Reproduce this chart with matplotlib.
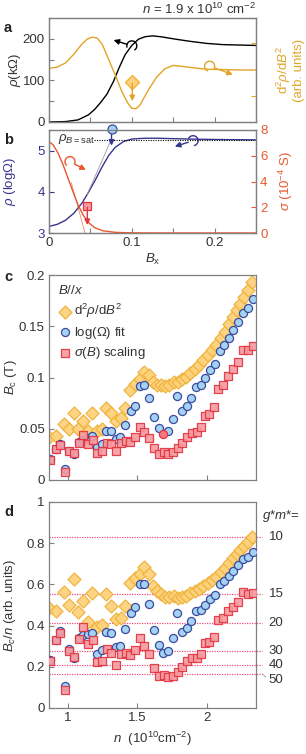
import numpy as np
import matplotlib
matplotlib.use("Agg")
import matplotlib.pyplot as plt
import matplotlib.patches as mpatches
import matplotlib.transforms as mtransforms

plt.rcParams['font.family'] = ['Liberation Sans', 'DejaVu Sans']
plt.rcParams['mathtext.fontset'] = 'custom'
plt.rcParams['mathtext.rm'] = 'Liberation Sans'
plt.rcParams['mathtext.it'] = 'Liberation Sans:italic'
plt.rcParams['mathtext.bf'] = 'Liberation Sans:bold'
plt.rcParams['font.size'] = 9.5

# ---- panel a: rho (kOhm) and d2rho/dB2 vs B ----
a_B = [0, 0.02, 0.035, 0.0475, 0.055, 0.062, 0.07, 0.078, 0.085, 0.092, 0.1, 0.108,
       0.116, 0.125, 0.135, 0.15, 0.17, 0.19, 0.21, 0.23, 0.25]
a_rho = [0, 1, 5, 17, 30, 46, 67, 98, 132, 162, 184, 199, 205, 207, 205, 200, 194, 189,
         186, 185, 184]
a2_B = [0, 0.01, 0.02, 0.03, 0.04, 0.046, 0.052, 0.058, 0.064, 0.07, 0.08, 0.088, 0.095,
        0.1, 0.105, 0.11, 0.12, 0.13, 0.14, 0.15, 0.16, 0.175, 0.19, 0.21, 0.23, 0.25]
a2_d2 = [129, 132, 142, 163, 188, 199, 204, 202, 188, 160, 113, 73, 46, 33, 32, 41, 77,
         108, 128, 136, 134, 130, 127, 126, 125, 125]

# ---- panel b: log rho and sigma vs B ----
b_B = [0, 0.01, 0.02, 0.03, 0.04, 0.048, 0.056, 0.064, 0.072, 0.08, 0.09, 0.1, 0.115,
       0.13, 0.15, 0.17, 0.2, 0.25]
b_logrho = [3.16, 3.21, 3.31, 3.48, 3.73, 4.0, 4.29, 4.6, 4.88, 5.08, 5.22, 5.28, 5.30,
            5.30, 5.29, 5.28, 5.27, 5.26]
b2_B = [0, 0.005, 0.011, 0.017, 0.023, 0.029, 0.035, 0.041, 0.047, 0.055, 0.065, 0.08,
        0.1, 0.15, 0.2, 0.25]
b2_sigma = [7.09, 6.85, 6.2, 5.3, 4.25, 3.2, 2.2, 1.42, 0.85, 0.42, 0.17, 0.05, 0.01, 0,
            0, 0]
rho_sat = 5.26
tan_rho_B = [0.046, 0.075]
tan_rho_y = [3.93, 5.26]
tan_sig_B = [0.027, 0.0435]
tan_sig_y = [3.9, 0.0]

# ---- panels c/d: critical field (stored as Bc/n, arb. units) vs n ----
dia_n = [0.865, 0.909, 0.973, 1.004, 1.040, 1.072, 1.108, 1.141, 1.175, 1.209, 1.245,
         1.276, 1.312, 1.345, 1.381, 1.412, 1.448, 1.484, 1.515, 1.549, 1.580, 1.612,
         1.640, 1.672, 1.700, 1.730, 1.760, 1.790, 1.820, 1.850, 1.880, 1.912, 1.945,
         1.975, 2.008, 2.040, 2.070, 2.100, 2.130, 2.160, 2.190, 2.215, 2.240, 2.268,
         2.295, 2.324]
dia_bcn = [0.487, 0.471, 0.565, 0.499, 0.626, 0.468, 0.521, 0.419, 0.557, 0.395, 0.403,
           0.552, 0.497, 0.431, 0.435, 0.497, 0.605, 0.630, 0.650, 0.683, 0.650, 0.594,
           0.568, 0.552, 0.540, 0.537, 0.545, 0.532, 0.540, 0.545, 0.557, 0.567, 0.578,
           0.592, 0.606, 0.622, 0.636, 0.660, 0.680, 0.706, 0.728, 0.750, 0.768, 0.788,
           0.808, 0.830]
circ_n = [0.868, 0.909, 0.940, 0.974, 1.005, 1.041, 1.077, 1.108, 1.141, 1.173, 1.209,
          1.245, 1.276, 1.312, 1.343, 1.376, 1.412, 1.452, 1.484, 1.520, 1.550, 1.586,
          1.618, 1.652, 1.686, 1.719, 1.755, 1.784, 1.820, 1.856, 1.885, 1.923, 1.957,
          1.988, 2.024, 2.060, 2.096, 2.124, 2.160, 2.191, 2.227, 2.263, 2.295, 2.331]
circ_bcn = [0.234, 0.330, 0.375, 0.108, 0.285, 0.242, 0.340, 0.355, 0.361, 0.363, 0.264,
            0.280, 0.371, 0.366, 0.298, 0.303, 0.382, 0.462, 0.488, 0.604, 0.600, 0.506,
            0.379, 0.306, 0.266, 0.278, 0.340, 0.462, 0.368, 0.387, 0.424, 0.471, 0.476,
            0.500, 0.529, 0.549, 0.602, 0.618, 0.642, 0.667, 0.694, 0.722, 0.731, 0.759]
sq_n = [0.868, 0.909, 0.940, 0.974, 1.005, 1.041, 1.077, 1.108, 1.141, 1.177, 1.209,
        1.245, 1.281, 1.312, 1.345, 1.381, 1.420, 1.448, 1.484, 1.516, 1.549, 1.583,
        1.616, 1.652, 1.688, 1.719, 1.755, 1.789, 1.820, 1.856, 1.892, 1.928, 1.959,
        1.988, 2.019, 2.055, 2.084, 2.120, 2.156, 2.192, 2.223, 2.264, 2.300, 2.336]
sq_bcn = [0.226, 0.331, 0.366, 0.085, 0.279, 0.250, 0.335, 0.393, 0.311, 0.331, 0.221,
          0.229, 0.285, 0.269, 0.210, 0.260, 0.266, 0.258, 0.282, 0.339, 0.302, 0.261,
          0.194, 0.153, 0.161, 0.150, 0.153, 0.177, 0.198, 0.226, 0.242, 0.242, 0.263,
          0.315, 0.319, 0.347, 0.427, 0.435, 0.471, 0.492, 0.516, 0.561, 0.553, 0.560]
highlight_n = 1.686          # circle drawn red in panel c
gm_values = [10, 15, 20, 30, 40, 50]
gm_levels = [0.83, 0.555, 0.415, 0.277, 0.208, 0.166]
gm_text_y = [0.83, 0.555, 0.415, 0.277, 0.21, 0.135]
bcn_scale = 10.0             # Bc/n in units of 0.1 T per 1e10 cm^-2

# colours
GRAY = '#808080'
TXT = '#333333'
GOLD = '#e0a526'
DIA_FC, DIA_EC = '#fdd27c', '#f0b23a'
NAVY = '#35358f'
CIR_FC, CIR_EC = '#a3d2f3', '#3b4b9e'
ORED = '#e8582c'
SQ_FC, SQ_EC = '#f59aa0', '#e2333e'
PINK = '#ef4f7a'

W, H = 306, 754
fig = plt.figure(figsize=(W / 100, H / 100), dpi=100)


def box(l, t, r, b):
    return [l / W, 1 - b / H, (r - l) / W, (b - t) / H]


def style(ax, lcol=TXT):
    for s in ax.spines.values():
        s.set_color(GRAY)
        s.set_linewidth(0.9)
    ax.tick_params(which='both', direction='in', length=3.5, width=0.8, color=GRAY,
                   labelcolor=lcol, labelsize=9.5, pad=3)


def curl(ax, center, tip, color, r=5, t1=40, t2=330):
    trans = mtransforms.Affine2D() + mtransforms.ScaledTranslation(center[0], center[1],
                                                                  ax.transData)
    arc = mpatches.Arc((0, 0), 2 * r, 2 * r, theta1=t1, theta2=t2, transform=trans,
                       color=color, lw=1.0, clip_on=False)
    ax.add_patch(arc)
    ax.annotate('', xy=tip, xytext=center,
                arrowprops=dict(arrowstyle='-|>', color=color, lw=1.0, mutation_scale=8,
                                shrinkA=r * 0.72, shrinkB=0), annotation_clip=False)


# ================= panel a =================
axa = fig.add_axes(box(49, 18, 256, 122))
style(axa)
axa.plot(a_B, a_rho, color='black', lw=1.0)
axa.set_xlim(0, 0.25)
axa.set_ylim(0, 250)
axa.set_yticks([0, 100, 200])
axa.set_yticks([50, 150], minor=True)
axa.set_xticks([0, 0.1, 0.2])
axa.set_xticks([0.05, 0.15], minor=True)
axa.tick_params(labelbottom=False)
axa.set_ylabel(r'$\rho$(k$\Omega$)', color=TXT, fontsize=9.5)
axa.yaxis.set_label_coords(-0.125, 0.5)

axa2 = axa.twinx()
style(axa2)
axa2.plot(a2_B, a2_d2, color=GOLD, lw=1.0)
axa2.set_ylim(0, 250)
axa2.set_yticks([62, 189])
axa2.tick_params(axis='y', colors=GOLD, labelright=False)
axa2.set_ylabel('d$^2\\rho$/d$B^2$\n(arb. units)', color=GOLD, fontsize=9.5,
                rotation=90, linespacing=1.0)
axa2.yaxis.set_label_coords(1.09, 0.5)
axa2.yaxis.label.set_va('top')

# diamond marker with arrow
axa2.annotate('', xy=(0.1006, 50), xytext=(0.1006, 93),
              arrowprops=dict(arrowstyle='-|>', color=GOLD, lw=1.0, mutation_scale=8,
                              shrinkA=0, shrinkB=0))
axa2.plot([0.1006], [96], marker='D', ms=7, mfc=DIA_FC, mec=DIA_EC, mew=1.0)
curl(axa, (0.100, 183), (0.078, 197), 'black', t1=-60, t2=200)
curl(axa2, (0.194, 134), (0.222, 114), GOLD, t1=-20, t2=250)

fig.text(256 / W, 1 - 9 / H, r'$n$ = 1.9 x 10$^{10}$ cm$^{-2}$', ha='right',
         va='center', color=TXT, fontsize=9.5)

# ================= panel b =================
axb = fig.add_axes(box(49, 130, 256, 233))
style(axb, NAVY)
axb.plot(b_B, b_logrho, color=NAVY, lw=1.0)
axb.plot([0.054, 0.25], [rho_sat, rho_sat], color='black', lw=0.8, ls=(0, (1, 1.2)))
axb.plot(tan_rho_B, tan_rho_y, color='#999999', lw=0.6)
axb.set_xlim(0, 0.25)
axb.set_ylim(3, 5.5)
axb.set_yticks([3, 4, 5])
axb.set_xticks([0, 0.1, 0.2])
axb.set_xticks([0.05, 0.15], minor=True)
axb.set_xticklabels(['0', '0.1', '0.2'])
axb.tick_params(axis='x', labelcolor=TXT)
axb.tick_params(axis='y', colors=NAVY)
axb.set_ylabel(r'$\rho$ (log$\Omega$)', color=NAVY, fontsize=9.5)
axb.yaxis.set_label_coords(-0.15, 0.5)
axb.set_xlabel(r'$B_{\mathrm{x}}$', color=TXT, fontsize=9.5, labelpad=2)
axb.text(0.011, 5.27, r'$\rho_{B\mathrm{=sat}}$', ha='left', va='center', color=TXT,
         fontsize=9.5)
axb.annotate('', xy=(0.0755, 5.12), xytext=(0.0755, 5.5),
             arrowprops=dict(arrowstyle='-|>', color=NAVY, lw=1.0, mutation_scale=8,
                             shrinkA=0, shrinkB=0), annotation_clip=False)
axb.plot([0.0755], [5.53], marker='o', ms=6.5, mfc=CIR_FC, mec=CIR_EC, mew=0.9,
         clip_on=False, zorder=5)
curl(axb, (0.174, 5.24), (0.152, 5.10), NAVY, t1=-80, t2=160)

axb2 = axb.twinx()
style(axb2, ORED)
axb2.plot(b2_B, b2_sigma, color=ORED, lw=1.0)
axb2.plot(tan_sig_B, tan_sig_y, color=ORED, lw=0.5, alpha=0.8)
axb2.set_ylim(0, 8)
axb2.set_yticks([0, 2, 4, 6, 8])
axb2.tick_params(axis='y', colors=ORED)
axb2.set_ylabel(r'$\sigma$ (10$^{-4}$ S)', color=ORED, fontsize=9.5)
axb2.yaxis.set_label_coords(1.10, 0.5)
axb2.yaxis.label.set_va('top')
axb2.annotate('', xy=(0.0463, 0.62), xytext=(0.0463, 2.0),
              arrowprops=dict(arrowstyle='-|>', color=SQ_EC, lw=1.0, mutation_scale=8,
                              shrinkA=0, shrinkB=0))
axb2.plot([0.0463], [2.1], marker='s', ms=5.5, mfc=SQ_FC, mec=SQ_EC, mew=0.9)
curl(axb2, (0.0254, 5.54), (0.0445, 4.9), ORED, t1=-30, t2=230)

# ================= panels c and d =================
dia_n_a, circ_n_a, sq_n_a = np.array(dia_n), np.array(circ_n), np.array(sq_n)
dia_bc = np.array(dia_bcn) * dia_n_a / bcn_scale
circ_bc = np.array(circ_bcn) * circ_n_a / bcn_scale
sq_bc = np.array(sq_bcn) * sq_n_a / bcn_scale
hl = np.argmin(np.abs(circ_n_a - highlight_n))

dia_kw = dict(marker='D', s=44, facecolor=DIA_FC, edgecolor=DIA_EC, linewidths=0.9,
              alpha=0.95)
cir_kw = dict(marker='o', s=34, facecolor=CIR_FC, edgecolor=CIR_EC, linewidths=0.9)
sq_kw = dict(marker='s', s=27, facecolor=SQ_FC, edgecolor=SQ_EC, linewidths=0.9,
             alpha=0.9)

axc = fig.add_axes(box(49, 275, 256, 480))
style(axc)
axc.scatter(dia_n_a, dia_bc, **dia_kw, label=r'd$^2\rho$/d$B^2$')
mask = np.arange(len(circ_n_a)) != hl
axc.scatter(circ_n_a[mask], circ_bc[mask], **cir_kw, label=r'log($\Omega$) fit')
axc.scatter(sq_n_a, sq_bc, **sq_kw, label=r'$\sigma$($B$) scaling')
axc.scatter(circ_n_a[hl], circ_bc[hl], marker='o', s=34, facecolor='#f37a80',
            edgecolor=SQ_EC, linewidths=0.9, zorder=4)
axc.set_xlim(0.862, 2.355)
axc.set_ylim(0, 0.2)
axc.set_xticks([1, 1.5, 2])
axc.tick_params(labelbottom=False)
axc.set_yticks([0, 0.05, 0.1, 0.15, 0.2])
axc.set_yticklabels(['0', '0.05', '0.1', '0.15', '0.2'])
axc.set_ylabel(r'$B_{\mathrm{c}}$ (T)', color=TXT, fontsize=9.5)
axc.yaxis.set_label_coords(-0.145, 0.5)
leg = axc.legend(loc='upper left', frameon=False, title=r'$B$//$x$', fontsize=9.5,
                 title_fontsize=9.5, handletextpad=0.2, labelspacing=0.35,
                 borderaxespad=0.4, handlelength=1.0, borderpad=0.3)
leg._legend_box.align = 'left'
for t in leg.get_texts():
    t.set_color(TXT)
leg.get_title().set_color(TXT)

axd = fig.add_axes(box(49, 502, 256, 708))
style(axd)
for lv in gm_levels:
    axd.plot([0.862, 2.40], [lv, lv], color=PINK, lw=0.9, ls=(0, (1, 1)), clip_on=False,
             zorder=1)
axd.scatter(dia_n_a, dia_bcn, **dia_kw, zorder=2)
axd.scatter(circ_n_a, circ_bcn, **cir_kw, zorder=3)
axd.scatter(sq_n_a, sq_bcn, **sq_kw, zorder=4)
axd.set_xlim(0.862, 2.355)
axd.set_ylim(0, 1)
axd.set_xticks([1, 1.5, 2])
axd.set_xticklabels(['1', '1.5', '2'])
axd.set_yticks([0, 0.2, 0.4, 0.6, 0.8, 1.0])
axd.set_yticklabels(['0', '0.2', '0.4', '0.6', '0.8', '1'])
axd.set_ylabel(r'$B_{c}$/$n$ (arb. units)', color=TXT, fontsize=9.5)
axd.yaxis.set_label_coords(-0.15, 0.5)
axd.set_xlabel(r'$n$  (10$^{10}$cm$^{-2}$)', color=TXT, fontsize=9.5, labelpad=4)
for gv, gy in zip(gm_values, gm_text_y):
    axd.text(2.445, gy, str(gv), ha='left', va='center', color=TXT, fontsize=9.5,
             clip_on=False)
axd.plot([2.40, 2.425], [0.166, 0.15], color='#999999', lw=0.6, clip_on=False)
axd.text(2.40, 0.93, r'$g$*$m$*=', ha='left', va='center', color=TXT, fontsize=9.5,
         clip_on=False)

# panel letters
for lab, y in zip('abcd', [28, 140, 277, 512]):
    fig.text(4 / W, 1 - y / H, lab, ha='left', va='center', fontsize=10.5,
             fontweight='bold', color='#222222')

fig.savefig('out.png', dpi=100)
